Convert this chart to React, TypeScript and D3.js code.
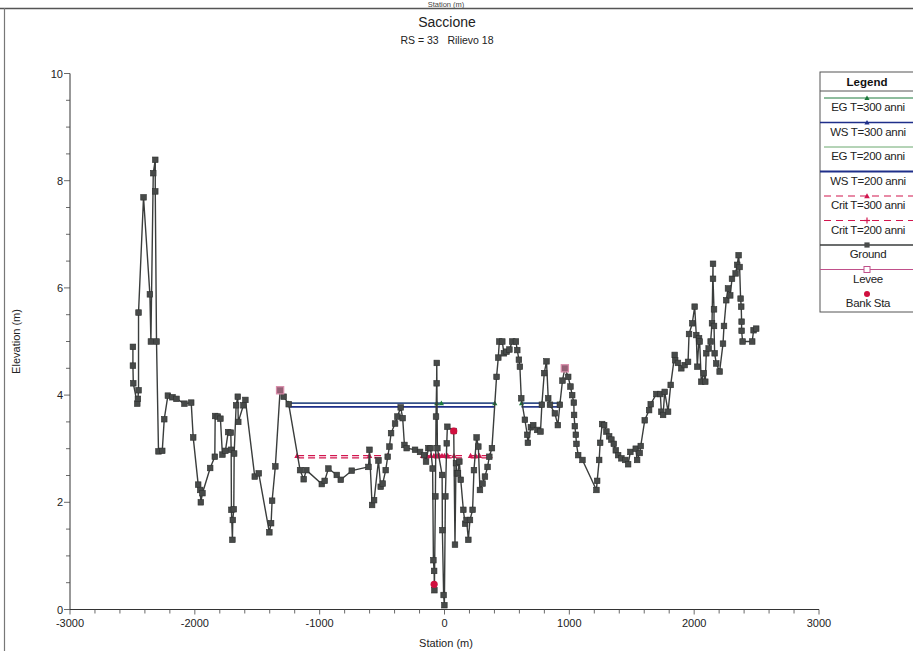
import React from "react";
import * as d3 from "d3";

// Cross-section ground survey: [station (m), elevation (m)]
const groundStations: number[] = [
  -2496, -2496, -2493, -2461, -2456, -2451, -2451, -2411, -2360, -2352, -2333, -2317, -2317, -2307,
  -2291, -2261, -2245, -2216, -2179, -2147, -2083, -2029, -2013, -1973, -1957, -1952, -1939, -1877,
  -1840, -1837, -1816, -1795, -1779, -1755, -1733, -1712, -1709, -1707, -1699, -1696, -1688, -1685,
  -1669, -1656, -1652, -1611, -1595, -1520, -1488, -1403, -1389, -1381, -1355, -1317, -1288, -1248,
  -1157, -1128, -1107, -983, -960, -930, -863, -831, -743, -609, -601, -580, -564, -529, -511, -495,
  -471, -455, -441, -428, -396, -377, -351, -335, -321, -303, -236, -196, -164, -148, -129, -111,
  -95, -89, -83, -81, -73, -68, -63, -62, -57, -19, -17, -7, -1, 7, 18, 23, 74, 84, 92, 100, 108,
  119, 130, 151, 165, 177, 191, 204, 225, 236, 257, 271, 284, 305, 324, 345, 359, 380, 417, 431,
  439, 463, 476, 497, 520, 543, 572, 583, 596, 604, 615, 644, 663, 668, 692, 711, 743, 769, 780,
  799, 817, 831, 845, 884, 908, 924, 945, 964, 991, 1009, 1023, 1036, 1038, 1044, 1052, 1057, 1071,
  1105, 1217, 1223, 1239, 1247, 1263, 1279, 1297, 1319, 1337, 1356, 1372, 1391, 1417, 1449, 1471,
  1489, 1532, 1543, 1564, 1572, 1604, 1639, 1652, 1697, 1729, 1737, 1751, 1764, 1791, 1812, 1844,
  1848, 1870, 1897, 1924, 1951, 1959, 1985, 2004, 2017, 2025, 2039, 2044, 2057, 2076, 2089, 2097,
  2116, 2132, 2143, 2151, 2151, 2159, 2159, 2164, 2177, 2204, 2231, 2239, 2257, 2271, 2289, 2303,
  2332, 2345, 2356, 2364, 2372, 2377, 2380, 2380, 2388, 2465, 2476, 2497,
];
const groundElevations: number[] = [
  4.9, 4.55, 4.22, 3.84, 3.93, 4.09, 5.54, 7.69, 5.88, 5.0, 8.14, 8.39, 7.8, 5.0,
  2.95, 2.96, 3.55, 3.99, 3.96, 3.93, 3.84, 3.86, 3.21, 2.33, 2.23, 2.0, 2.17, 2.64,
  2.85, 3.61, 3.6, 3.56, 2.89, 2.96, 3.31, 3.3, 2.98, 1.86, 1.3, 1.67, 1.87, 2.91,
  3.81, 3.97, 3.5, 3.81, 3.91, 2.48, 2.54, 1.44, 1.61, 2.03, 2.67, 4.09, 3.97, 3.83,
  2.6, 2.43, 2.6, 2.34, 2.4, 2.63, 2.51, 2.42, 2.59, 2.66, 2.98, 1.95, 2.04, 2.78, 2.29, 2.35,
  2.6, 2.85, 3.04, 3.29, 3.47, 3.6, 3.77, 3.57, 3.07, 3.01, 2.98, 2.94, 2.88, 2.76, 3.01, 3.01,
  2.63, 0.92, 0.72, 0.36, 2.11, 3.6, 4.22, 4.6, 3.01, 2.51, 1.48, 0.27, 0.08, 2.11, 3.1, 3.41, 3.33, 1.21, 2.73, 2.54, 2.54,
  2.76, 2.42, 1.86, 1.6, 1.67, 1.3, 1.67, 1.86, 2.6, 3.21, 3.04, 2.23, 2.35, 2.48, 2.66, 2.85, 3.01, 4.34, 4.7,
  5.0, 5.0, 4.78, 4.81, 4.85, 5.0, 5.0, 4.84, 4.66, 4.53, 3.94, 3.54, 3.26, 3.11, 3.4, 3.44, 3.35, 3.32, 3.82,
  4.41, 4.63, 3.94, 3.82, 3.66, 3.44, 3.82, 4.27, 4.5, 4.34, 4.16, 4.0, 3.86, 3.63, 3.42, 3.26, 3.09, 2.88,
  2.79, 2.23, 2.4, 2.79, 3.11, 3.46, 3.44, 3.32, 3.23, 3.17, 3.09, 2.97, 2.88, 2.82, 2.79, 2.71,
  2.94, 3.0, 2.79, 2.92, 3.05, 3.53, 3.72, 3.83, 4.02, 4.02, 3.69, 3.63, 4.06, 3.69, 4.19, 4.75,
  4.65, 4.6, 4.5, 4.56, 4.62, 5.14, 5.34, 5.65, 5.12, 4.53, 5.06, 5.0, 4.25, 4.41, 4.25, 4.78,
  4.87, 5.0, 5.34, 6.45, 6.17, 5.6, 5.29, 4.78, 4.59, 4.44, 4.96, 5.29, 5.77, 5.99, 5.86, 6.17,
  6.27, 6.43, 6.61, 6.39, 5.8, 5.65, 5.37, 5.2, 5.0, 5.0, 5.21, 5.24,
];

// Levee points and bank stations
const leveeStations: number[] = [-1317, 964];
const leveeElevations: number[] = [4.09, 4.5];
const bankStations: number[] = [-83, 74];
const bankElevations: number[] = [0.47, 3.33];

// Water surface / energy grade elevations and wetted reaches
const egT300 = 3.85;
const wsT300 = 3.85;
const egT200 = 3.785;
const wsT200 = 3.78;
const wetReaches: [number, number][] = [[-1248, 403], [617, 780], [844, 924]];
const wsMarkerStations: number[] = [-1248, -62, -25, 403, 617, 780, 844, 924];

// Critical depth elevations and reaches
const critT300 = 2.87;
const critT200 = 2.83;
const critReaches: [number, number][] = [[-1181, -457], [-175, 140], [209, 364]];
const critMarkerStations: number[] = [-1181, -601, -457, -175, -140, -110, -85, -60, -40, -20, 0, 25, 76, 209, 250, 280, 364];

// Axis ticks
const xTicks: number[] = [-3000, -2000, -1000, 0, 1000, 2000, 3000];
const yTicks: number[] = [0, 2, 4, 6, 8, 10];

const W = 913;
const H = 651;
const FONT = "'Liberation Sans', Arial, Helvetica, sans-serif";

const C_GROUND = "#3a3d3c";
const C_WS = "#1f2f8a";
const C_EG300 = "#1d7a3c";
const C_EG200 = "#6aa86f";
const C_CRIT = "#d2164f";
const C_LEVEE = "#c0508a";
const C_BANK = "#d0103f";

export default function App() {
  const x = d3.scaleLinear().domain([-3000, 3000]).range([70, 819]);
  const y = d3.scaleLinear().domain([0, 10]).range([609.5, 73.5]);

  const groundPts: [number, number][] = groundStations.map((s, i) => [s, groundElevations[i]]);
  const line = d3
    .line<[number, number]>()
    .x((d) => x(d[0]))
    .y((d) => y(d[1]));

  const xMinor = d3.range(-3000, 3001, 200);
  const yMinor = d3.range(0, 10.01, 0.5);

  const tri = (cx: number, cy: number, s = 3.2) =>
    `M${cx},${cy - s}L${cx + s},${cy + s * 0.8}L${cx - s},${cy + s * 0.8}Z`;

  // Legend layout
  const lgX = 820;
  const lgTop = 72;
  const lgHead = 19;
  const rowH = 24.5;
  const lgCx = 867;
  const legendRows = [
    "EG T=300 anni",
    "WS T=300 anni",
    "EG T=200 anni",
    "WS T=200 anni",
    "Crit T=300 anni",
    "Crit T=200 anni",
    "Ground",
    "Levee",
    "Bank Sta",
  ];
  const rowLineY = (i: number) => lgTop + lgHead + rowH * i + 7;
  const rowTextY = (i: number) => lgTop + lgHead + rowH * i + 20;

  return (
    <svg
      width={W}
      height={H}
      style={{ position: "absolute", left: 0, top: 0, background: "#fff" }}
      fontFamily={FONT}
    >
      <rect x={0} y={0} width={W} height={H} fill="#fff" />

      {/* page frame and the heading of the panel above */}
      <text x={446} y={6.5} fontSize={7.5} textAnchor="middle" fill="#444">
        Station (m)
      </text>
      <line x1={0} x2={W} y1={8.5} y2={8.5} stroke="#555" strokeWidth={1.6} />
      <line x1={4.5} x2={4.5} y1={8} y2={H} stroke="#777" strokeWidth={1.2} />

      {/* titles */}
      <text x={447} y={27} fontSize={14} textAnchor="middle" fill="#222">
        Saccione
      </text>
      <text x={447} y={44} fontSize={10.5} textAnchor="middle" fill="#222">
        RS = 33{"\u00a0\u00a0\u00a0"}Rilievo 18
      </text>

      {/* y axis */}
      <line x1={70} x2={70} y1={y(10)} y2={y(0)} stroke="#333" strokeWidth={1} />
      {yMinor.map((v) => (
        <line
          key={"ym" + v}
          x1={70}
          x2={v % 2 === 0 ? 64 : 66}
          y1={y(v)}
          y2={y(v)}
          stroke="#444"
          strokeWidth={0.8}
        />
      ))}
      {yTicks.map((v) => (
        <text key={"yt" + v} x={63} y={y(v) + 4} fontSize={11} textAnchor="end" fill="#222">
          {v}
        </text>
      ))}
      <text
        transform={`translate(20,${(y(0) + y(10)) / 2}) rotate(-90)`}
        fontSize={11}
        textAnchor="middle"
        fill="#222"
      >
        Elevation (m)
      </text>

      {/* x axis */}
      <line x1={x(-3000)} x2={x(3000)} y1={y(0)} y2={y(0)} stroke="#333" strokeWidth={1} />
      {xMinor.map((v) => (
        <line
          key={"xm" + v}
          x1={x(v)}
          x2={x(v)}
          y1={y(0)}
          y2={y(0) + (v % 1000 === 0 ? 5 : 4)}
          stroke="#444"
          strokeWidth={0.8}
        />
      ))}
      {xTicks.map((v) => (
        <text key={"xt" + v} x={x(v)} y={y(0) + 17} fontSize={11} textAnchor="middle" fill="#222">
          {v}
        </text>
      ))}
      <text x={446} y={647} fontSize={11} textAnchor="middle" fill="#222">
        Station (m)
      </text>

      {/* energy grade lines */}
      {wetReaches.map(([a, b], i) => (
        <g key={"eg" + i}>
          <line x1={x(a)} x2={x(b)} y1={y(egT300)} y2={y(egT300)} stroke={C_EG300} strokeWidth={0.9} />
          <line x1={x(a)} x2={x(b)} y1={y(egT200)} y2={y(egT200)} stroke={C_EG200} strokeWidth={0.9} />
        </g>
      ))}
      {/* water surface lines */}
      {wetReaches.map(([a, b], i) => (
        <g key={"ws" + i}>
          <line x1={x(a)} x2={x(b)} y1={y(wsT300)} y2={y(wsT300)} stroke={C_WS} strokeWidth={1.3} />
          <line x1={x(a)} x2={x(b)} y1={y(wsT200)} y2={y(wsT200)} stroke={C_WS} strokeWidth={1.6} />
        </g>
      ))}
      {wsMarkerStations.map((s, i) => (
        <path key={"wsm" + i} d={tri(x(s), y(egT300), 2.6)} fill={C_EG300} />
      ))}

      {/* critical depth lines */}
      {critReaches.map(([a, b], i) => (
        <g key={"cr" + i}>
          <line
            x1={x(a)}
            x2={x(b)}
            y1={y(critT300)}
            y2={y(critT300)}
            stroke={C_CRIT}
            strokeWidth={1.2}
            strokeDasharray="7,4"
          />
          <line
            x1={x(a)}
            x2={x(b)}
            y1={y(critT200)}
            y2={y(critT200)}
            stroke={C_CRIT}
            strokeWidth={1.2}
            strokeDasharray="7,4"
          />
        </g>
      ))}
      {critMarkerStations.map((s, i) => (
        <path key={"crm" + i} d={tri(x(s), y(critT300), 2.8)} fill={C_CRIT} />
      ))}

      {/* ground */}
      <path d={line(groundPts) ?? ""} fill="none" stroke={C_GROUND} strokeWidth={1.4} strokeLinejoin="round" />
      {groundPts.map((p, i) => (
        <rect
          key={"gp" + i}
          x={x(p[0]) - 2.8}
          y={y(p[1]) - 2.8}
          width={5.6}
          height={5.6}
          fill="#474a49"
          stroke="#2e302f"
          strokeWidth={0.6}
        />
      ))}

      {/* levees */}
      {leveeStations.map((s, i) => (
        <rect
          key={"lv" + i}
          x={x(s) - 3.6}
          y={y(leveeElevations[i]) - 3.6}
          width={7.2}
          height={7.2}
          fill="#b06a86"
          fillOpacity={0.75}
          stroke="#d88aa8"
          strokeWidth={1.2}
        />
      ))}

      {/* bank stations */}
      {bankStations.map((s, i) => (
        <circle key={"bk" + i} cx={x(s)} cy={y(bankElevations[i])} r={3.6} fill={C_BANK} />
      ))}

      {/* legend */}
      <g>
        <rect x={lgX} y={lgTop} width={W - lgX + 10} height={240} fill="#fff" stroke="#555" strokeWidth={1} />
        <text x={lgCx} y={lgTop + 14} fontSize={11.5} textAnchor="middle" fill="#111" fontWeight={600}>
          Legend
        </text>
        <line x1={lgX} x2={W} y1={lgTop + lgHead} y2={lgTop + lgHead} stroke="#555" strokeWidth={1} />
        {legendRows.map((label, i) => {
          const ly = rowLineY(i);
          let mark: React.ReactNode = null;
          if (i === 0)
            mark = (
              <g>
                <line x1={lgX + 4} x2={W} y1={ly} y2={ly} stroke={C_EG300} strokeWidth={1} />
                <path d={tri(lgCx, ly, 2.6)} fill={C_EG300} />
              </g>
            );
          else if (i === 1)
            mark = (
              <g>
                <line x1={lgX} x2={W} y1={ly} y2={ly} stroke={C_WS} strokeWidth={1.5} />
                <path d={tri(lgCx, ly, 2.6)} fill={C_WS} />
              </g>
            );
          else if (i === 2)
            mark = <line x1={lgX + 4} x2={W} y1={ly} y2={ly} stroke={C_EG200} strokeWidth={1} />;
          else if (i === 3) mark = <line x1={lgX} x2={W} y1={ly} y2={ly} stroke={C_WS} strokeWidth={2} />;
          else if (i === 4)
            mark = (
              <g>
                <line x1={lgX + 4} x2={W} y1={ly} y2={ly} stroke={C_CRIT} strokeWidth={1.1} strokeDasharray="7,5" />
                <path d={tri(lgCx, ly, 2.8)} fill={C_CRIT} />
              </g>
            );
          else if (i === 5)
            mark = (
              <g>
                <line x1={lgX + 4} x2={W} y1={ly} y2={ly} stroke={C_CRIT} strokeWidth={1.1} strokeDasharray="7,5" />
                <line x1={lgCx - 3} x2={lgCx + 3} y1={ly} y2={ly} stroke={C_CRIT} strokeWidth={1.2} />
                <line x1={lgCx} x2={lgCx} y1={ly - 3} y2={ly + 3} stroke={C_CRIT} strokeWidth={1.2} />
              </g>
            );
          else if (i === 6)
            mark = (
              <g>
                <line x1={lgX} x2={W} y1={ly} y2={ly} stroke={C_GROUND} strokeWidth={1.6} />
                <rect x={lgCx - 2.6} y={ly - 2.6} width={5.2} height={5.2} fill="#4a4d4c" />
              </g>
            );
          else if (i === 7)
            mark = (
              <g>
                <line x1={lgX} x2={W} y1={ly} y2={ly} stroke={C_LEVEE} strokeWidth={1.2} />
                <rect x={lgCx - 3} y={ly - 3} width={6} height={6} fill="#fff" stroke={C_LEVEE} strokeWidth={1} />
              </g>
            );
          else mark = <circle cx={lgCx} cy={ly} r={3} fill={C_BANK} />;
          return (
            <g key={"lg" + i}>
              {mark}
              <text x={lgCx + 1} y={rowTextY(i)} fontSize={11.5} textAnchor="middle" fill="#222" letterSpacing={-0.3}>
                {label}
              </text>
            </g>
          );
        })}
      </g>
    </svg>
  );
}
